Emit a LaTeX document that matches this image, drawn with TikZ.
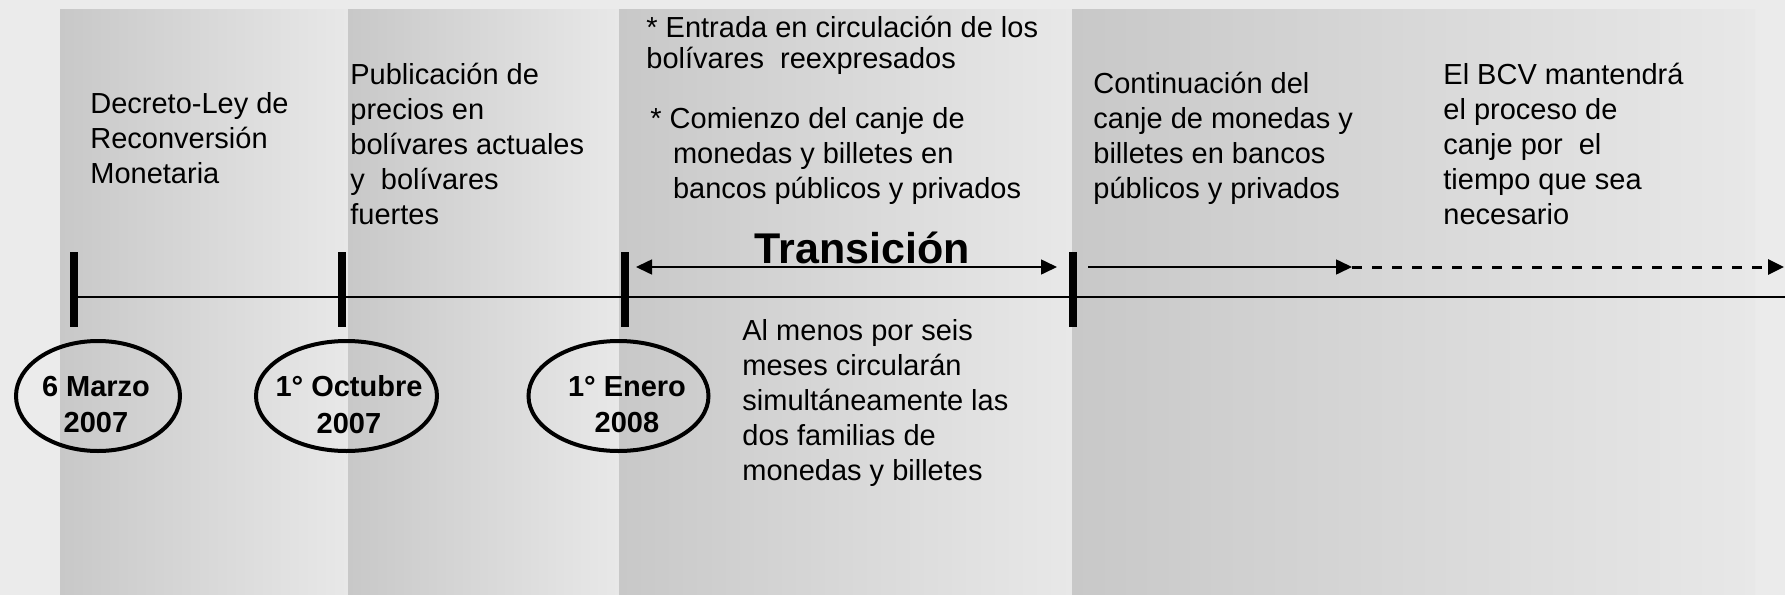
\documentclass[tikz,border=0pt]{standalone}
\usepackage{fontspec}
\setmainfont{Liberation Sans}
\usetikzlibrary{arrows.meta,shapes.geometric}
\definecolor{bgGray}{HTML}{EBEBEB}
\definecolor{panelDark}{HTML}{C8C8C8}
\definecolor{panelLight}{HTML}{E8E8E8}
\tikzset{
  panel/.style={left color=panelDark,right color=panelLight},
  tickbar/.style={line width=4pt},
  dateoval/.style={draw,ellipse,line width=2pt,minimum height=55pt,inner sep=0pt},
  datetext/.style={font=\bfseries\fontsize{14.5}{18.3}\selectfont,align=center,inner sep=0pt},
  % base = baseline of the last line
  txt/.style={font=\fontsize{14.5}{17.5}\selectfont,align=left,anchor=base west,inner sep=0pt},
  head/.style={-{Triangle[length=8pt,width=7.5pt]}},
}

\begin{document}
\begin{tikzpicture}[x=0.5pt,y=-0.5pt]
  \useasboundingbox (0,0) rectangle (1785,595);
  \fill[bgGray] (0,0) rectangle (1785,595);

  % shaded panels
  \foreach \a/\b in {60/348,348/619,619/1072,1072/1755}
    \fill[panel] (\a,9) rectangle (\b,595);

  % time line with ticks
  \coordinate (start) at (74,297);
  \coordinate (end) at (1785,297);
  \draw[line width=1pt] (start) -- (end);
  \foreach \x in {74,342,624.5,1072.5}
    \draw[tickbar] (\x,252) -- (\x,327);

  % dates
  \node[dateoval,minimum width=82pt] (marzo) at (98,396) {};
  \node[dateoval,minimum width=90.5pt] (octubre) at (346.5,396) {};
  \node[dateoval,minimum width=90pt] (enero) at (618.5,396) {};
  \node[datetext] (marzo-t) at (96,404.5) {6 Marzo\\2007};
  \node[datetext] (octubre-t) at (349,404.5) {1° Octubre\\2007};
  \node[datetext] (enero-t) at (627,404.5) {1° Enero\\2008};

  % transition
  \node[font=\bfseries\fontsize{21.5}{25}\selectfont,anchor=base,inner sep=0pt] (transicion) at (862,263) {Transición};
  \coordinate (trA) at (636,267);
  \coordinate (trB) at (1057,267);
  \draw[{Triangle[length=8pt,width=7.5pt]}-{Triangle[length=8pt,width=7.5pt]},line width=0.8pt] (trA) -- (trB);

  % after the transition
  \coordinate (contA) at (1088,267);
  \coordinate (contB) at (1352,267);
  \coordinate (contC) at (1784,267);
  \draw[head,line width=0.8pt] (contA) -- (contB);
  \draw[head,line width=1.5pt,dash pattern=on 5pt off 5pt] (contB) -- (contC);

  % texts
  \node[txt] (decreto) at (90,183) {Decreto-Ley de\\Reconversión\\Monetaria};
  \node[txt] (publicacion) at (350,224) {Publicación de\\precios en\\bolívares actuales\\y~ bolívares\\fuertes};
  \node[txt,font=\fontsize{14.5}{15.8}\selectfont] (entrada) at (646,68.6) {* Entrada en circulación de los\\bolívares~ reexpresados};
  \node[txt] (comienzo) at (650,198) {* Comienzo del canje de\\\hspace*{11.3pt}monedas y billetes en\\\hspace*{11.3pt}bancos públicos y privados};
  \node[txt] (almenos) at (742,480) {Al menos por seis\\meses circularán\\simultáneamente las\\dos familias de\\monedas y billetes};
  \node[txt] (continuacion) at (1093,198) {Continuación del\\canje de monedas y\\billetes en bancos\\públicos y privados};
  \node[txt] (bcv) at (1443,224) {El BCV mantendrá\\el proceso de\\canje por~ el\\tiempo que sea\\necesario};
\end{tikzpicture}
\end{document}
